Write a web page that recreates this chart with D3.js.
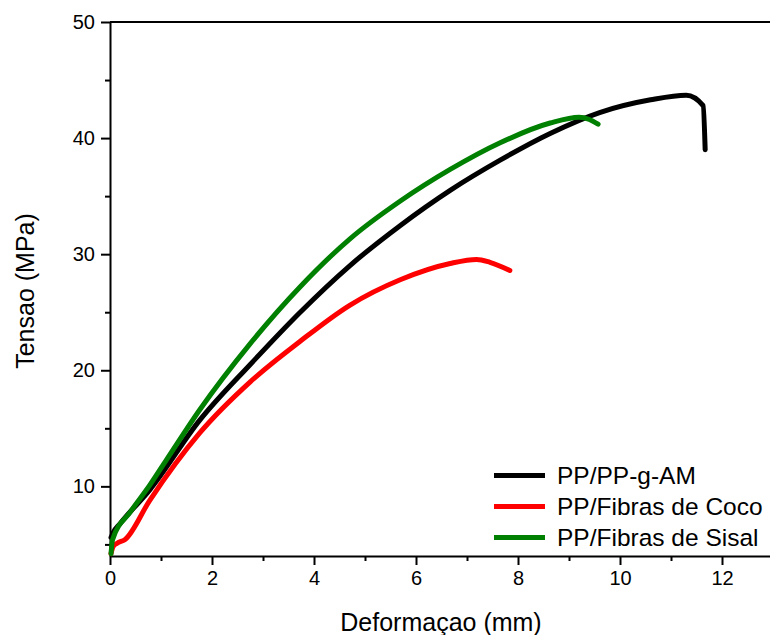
<!DOCTYPE html>
<html>
<head>
<meta charset="utf-8">
<script src="https://cdnjs.cloudflare.com/ajax/libs/d3/7.8.5/d3.min.js"></script>
<style>
  body { margin: 0; background: #fff; }
  svg { display: block; font-family: "Liberation Sans", Arial, sans-serif; }
  .axis path, .axis line { stroke: #000; stroke-width: 2; }
  .axis text { font-family: "Liberation Sans", Arial, sans-serif; font-size: 20px; fill: #000; }
</style>
</head>
<body>
<div id="chart"></div>
<script>
// deformation (mm) / stress (MPa)
var ppAmX    = [0.02, 0.06, 0.2, 0.78, 1.76, 2.75, 3.73, 4.7, 5.7, 6.67, 7.65, 8.63, 9.6, 10.6, 11.3, 11.63, 11.67];
var ppAmY    = [5.6, 6.0, 6.8, 9.7, 15.7, 20.5, 25.0, 29.0, 32.5, 35.5, 38.1, 40.4, 42.2, 43.3, 43.7, 42.8, 39.0];
var cocoX    = [0.02, 0.06, 0.14, 0.29, 0.78, 1.76, 2.75, 3.73, 4.7, 5.69, 6.67, 7.19, 7.45, 7.84];
var cocoY    = [4.2, 4.8, 5.1, 5.4, 8.8, 14.6, 19.0, 22.5, 25.6, 27.8, 29.2, 29.55, 29.3, 28.6];
var sisalX   = [0.02, 0.05, 0.4, 0.78, 1.11, 1.76, 2.75, 3.73, 4.7, 5.7, 6.67, 7.65, 8.63, 9.2, 9.4, 9.57];
var sisalY   = [4.2, 5.4, 7.8, 10.1, 12.3, 16.6, 22.3, 27.2, 31.3, 34.6, 37.3, 39.6, 41.3, 41.8, 41.6, 41.2];

var seriesNames  = ['PP/PP-g-AM', 'PP/Fibras de Coco', 'PP/Fibras de Sisal'];
var seriesColors = ['#000000', '#ff0000', '#008000'];
var xTicks = [0, 2, 4, 6, 8, 10, 12];
var yTicks = [10, 20, 30, 40, 50];

var series = [
  { name: seriesNames[0], color: seriesColors[0], pts: d3.zip(ppAmX, ppAmY) },
  { name: seriesNames[1], color: seriesColors[1], pts: d3.zip(cocoX, cocoY) },
  { name: seriesNames[2], color: seriesColors[2], pts: d3.zip(sisalX, sisalY) }
];

var W = 770, H = 635;
var mLeft = 110, mTop = 22, mBottom = 556;

var x = d3.scaleLinear().domain([0, 13]).range([mLeft, mLeft + 13 * 51]);
var y = d3.scaleLinear().domain([4, 50]).range([mBottom, mTop]);

var svg = d3.select('#chart').append('svg')
  .attr('width', W)
  .attr('height', H);

// minor ticks first
svg.append('g')
  .attr('class', 'axis')
  .attr('transform', 'translate(0,' + mBottom + ')')
  .call(d3.axisBottom(x).tickValues([1, 3, 5, 7, 9, 11]).tickSize(5).tickFormat(''))
  .select('.domain').remove();

svg.append('g')
  .attr('class', 'axis')
  .attr('transform', 'translate(' + mLeft + ',0)')
  .call(d3.axisLeft(y).tickValues([5, 15, 25, 35, 45]).tickSize(5).tickFormat(''))
  .select('.domain').remove();

svg.append('g')
  .attr('class', 'axis')
  .attr('transform', 'translate(0,' + mBottom + ')')
  .call(d3.axisBottom(x).tickValues(xTicks).tickSize(9).tickSizeOuter(0).tickPadding(6));

svg.append('g')
  .attr('class', 'axis')
  .attr('transform', 'translate(' + mLeft + ',0)')
  .call(d3.axisLeft(y).tickValues(yTicks).tickSize(9).tickSizeOuter(0).tickPadding(6));

// top frame line
svg.append('line')
  .attr('x1', mLeft).attr('x2', x(13))
  .attr('y1', mTop).attr('y2', mTop)
  .attr('stroke', '#000').attr('stroke-width', 2);

var line = d3.line()
  .x(function(d) { return x(d[0]); })
  .y(function(d) { return y(d[1]); })
  .curve(d3.curveMonotoneX);

svg.append('g')
  .selectAll('path')
  .data(series)
  .enter()
  .append('path')
  .attr('d', function(d) { return line(d.pts); })
  .attr('fill', 'none')
  .attr('stroke', function(d) { return d.color; })
  .attr('stroke-width', 5)
  .attr('stroke-linejoin', 'round')
  .attr('stroke-linecap', 'round');

// legend
var leg = svg.append('g')
  .selectAll('g')
  .data(series)
  .enter()
  .append('g')
  .attr('transform', function(d, i) { return 'translate(494,' + (475.5 + i * 31) + ')'; });

leg.append('line')
  .attr('x1', 0).attr('x2', 51)
  .attr('stroke', function(d) { return d.color; })
  .attr('stroke-width', 5);

leg.append('text')
  .attr('x', 63)
  .attr('dy', '0.36em')
  .style('font-size', '24.5px')
  .text(function(d) { return d.name; });

// axis titles
svg.append('text')
  .attr('x', 441)
  .attr('y', 631)
  .attr('text-anchor', 'middle')
  .style('font-size', '25px')
  .text('Deformaçao (mm)');

svg.append('text')
  .attr('transform', 'translate(34,' + ((mTop + mBottom) / 2 + 2) + ') rotate(-90)')
  .attr('text-anchor', 'middle')
  .style('font-size', '25px')
  .text('Tensao (MPa)');
</script>
</body>
</html>
